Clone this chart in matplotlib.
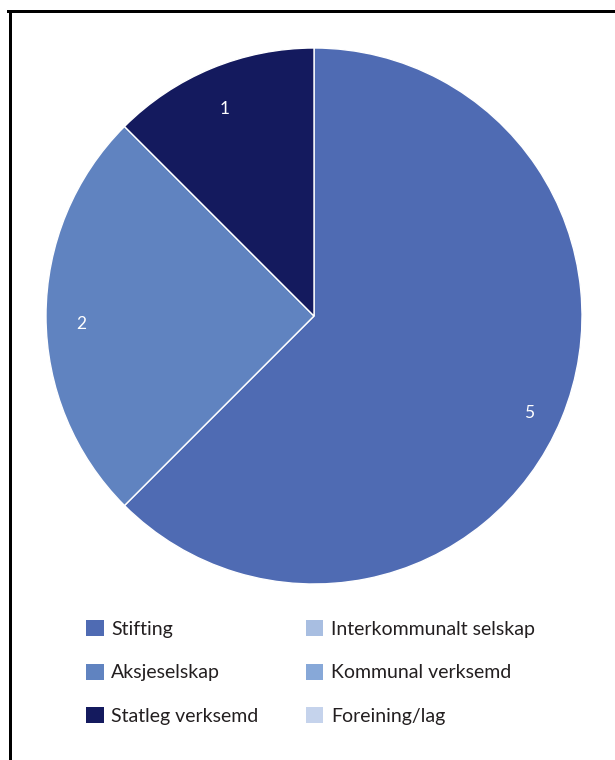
import matplotlib
matplotlib.use("Agg")
import matplotlib.pyplot as plt
from matplotlib.patches import Patch
from matplotlib.lines import Line2D

plt.rcParams['font.family'] = ['Lato', 'DejaVu Sans']

categories = ["Stifting", "Aksjeselskap", "Statleg verksemd",
              "Interkommunalt selskap", "Kommunal verksemd", "Foreining/lag"]
values = [5, 2, 1, 0, 0, 0]
colors = ["#4f6bb3", "#6083c0", "#141a5e", "#a8bee1", "#87a8d8", "#c5d3ec"]
text_color = "#231f20"

fig = plt.figure(figsize=(6.15, 7.6), dpi=100)

# pie area: centre (314, 316) px, radius 268 px
ax = fig.add_axes([46 / 615, 1 - 584 / 760, 536 / 615, 536 / 760])
shown = [(v, c) for v, c in zip(values, colors) if v > 0]
wedges, _, autotexts = ax.pie([v for v, _ in shown], colors=[c for _, c in shown],
                              startangle=90, counterclock=False, radius=1,
                              autopct=lambda p: "%d" % round(p * sum(values) / 100),
                              pctdistance=0.87,
                              wedgeprops=dict(edgecolor="white", linewidth=1))
for t in autotexts:
    t.set_color("white")
    t.set_fontsize(12.5)
    t.set_va("top")
ax.set_xlim(-1, 1)
ax.set_ylim(-1, 1)
ax.set_aspect("equal")
ax.axis("off")

handles = [Patch(facecolor=c, edgecolor="none") for c in colors]
fig.legend(handles, categories, loc="upper left",
           bbox_to_anchor=(86 / 615, 1 - 620 / 760), ncol=2, frameon=False,
           fontsize=14, handlelength=0.9, handleheight=0.9,
           handletextpad=0.4, labelspacing=1.33, columnspacing=2.43,
           labelcolor=text_color, borderaxespad=0, borderpad=0)

# frame (cut at right and bottom)
lw = 3 * 72 / 100
fig.add_artist(Line2D([9.5 / 615, 9.5 / 615], [0, 1 - 11 / 760], color="black",
                      linewidth=lw, transform=fig.transFigure))
fig.add_artist(Line2D([8 / 615, 1], [1 - 11 / 760, 1 - 11 / 760], color="black",
                      linewidth=lw, transform=fig.transFigure))

fig.savefig("out.png", dpi=100)
